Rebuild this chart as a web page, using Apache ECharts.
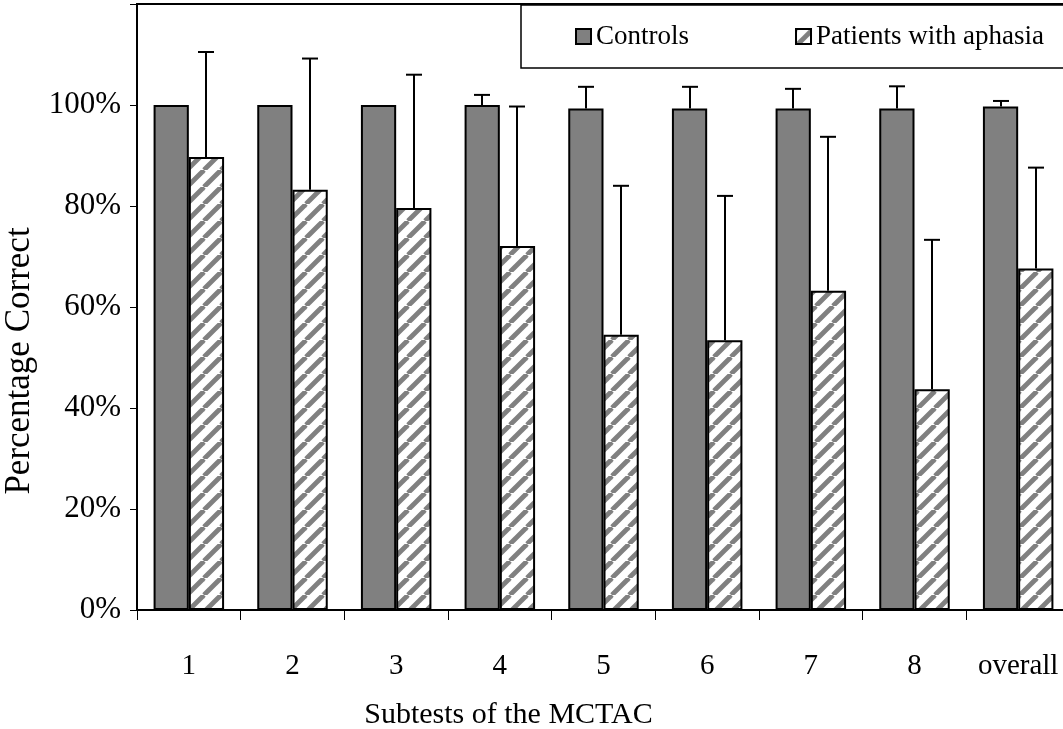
<!DOCTYPE html>
<html>
<head>
<meta charset="utf-8">
<script src="https://cdn.jsdelivr.net/npm/echarts@6/dist/echarts.min.js"></script>
<style>
html,body{margin:0;padding:0;background:#fff;}
#chart{width:1063px;height:729px;}
</style>
</head>
<body>
<div id="chart"></div>
<script>
// ---- Data ----
var categories = ['1', '2', '3', '4', '5', '6', '7', '8', 'overall'];
var controls = [100, 100, 100, 100, 99.3, 99.3, 99.3, 99.3, 99.7];
var controlsSD = [0, 0, 0, 2, 4.3, 4.3, 3.9, 4.4, 1.1];
var patients = [89.7, 83.2, 79.6, 72.1, 54.5, 53.4, 63.2, 43.7, 67.6];
var patientsSD = [20.8, 26, 26.4, 27.6, 29.5, 28.6, 30.5, 29.6, 20];
var yTicks = [0, 20, 40, 60, 80, 100];

var FONT = '"Liberation Serif", "Times New Roman", serif';

// hatch pattern
function makeHatch() {
  var s = 17;
  var c = document.createElement('canvas');
  c.width = s; c.height = s;
  var ctx = c.getContext('2d');
  ctx.fillStyle = '#ffffff';
  ctx.fillRect(0, 0, s, s);
  ctx.strokeStyle = '#808080';
  ctx.lineWidth = 4.8;
  for (var k = -1; k <= 1; k++) {
    ctx.beginPath();
    ctx.moveTo(k * s, s);
    ctx.lineTo(k * s + s, 0);
    ctx.stroke();
  }
  return c;
}
var hatch = makeHatch();

var GAP = 0.32;

function errorSeries(name, values, sds, side) {
  var data = values.map(function (v, i) { return [i, v, v + sds[i], sds[i]]; });
  return {
    type: 'custom',
    name: name + ' SD',
    z: 5,
    silent: true,
    data: data,
    encode: { x: 0, y: [1, 2] },
    renderItem: function (params, api) {
      var i = api.value(0);
      var sd = api.value(3);
      if (!(sd > 0)) return null;
      var band = api.size([1, 0])[0];
      var bw = band * (1 - GAP) / 2;
      var base = api.coord([i, api.value(1)]);
      var top = api.coord([i, api.value(2)]);
      var x = Math.round(base[0] + side * bw / 2);
      var cap = 8;
      var style = { stroke: '#000', lineWidth: 2, fill: null };
      return {
        type: 'group',
        children: [
          { type: 'line', shape: { x1: x, y1: base[1], x2: x, y2: top[1] }, style: style },
          { type: 'line', shape: { x1: x - cap, y1: top[1], x2: x + cap, y2: top[1] }, style: style }
        ]
      };
    }
  };
}

var chart = echarts.init(document.getElementById('chart'), null, { renderer: 'canvas' });
chart.setOption({
  animation: false,
  backgroundColor: '#fff',
  textStyle: { fontFamily: FONT, color: '#000' },
  grid: {
    left: 137, width: 933, top: 4, height: 606,
    outerBoundsMode: 'none',
    containLabel: false,
    show: true, borderColor: '#000', borderWidth: 2, backgroundColor: 'transparent'
  },
  legend: {
    data: ['Controls', 'Patients with aphasia'],
    orient: 'horizontal',
    left: 521, top: 5, width: 700,
    padding: [18, 40, 18, 54],
    itemGap: 106,
    itemWidth: 15, itemHeight: 15,
    icon: 'rect',
    backgroundColor: '#fff',
    borderColor: '#000', borderWidth: 1.5,
    textStyle: { fontFamily: FONT, fontSize: 27, color: '#000' },
    z: 10
  },
  xAxis: {
    type: 'category',
    data: categories,
    name: 'Subtests of the MCTAC',
    nameLocation: 'middle',
    nameGap: 90,
    nameTextStyle: { fontFamily: FONT, fontSize: 30, color: '#000', padding: [0, 190, 0, 0] },
    axisLine: { lineStyle: { color: '#000', width: 2 } },
    axisTick: { show: true, interval: 0, length: 10, lineStyle: { color: '#000', width: 1 } },
    axisLabel: { interval: 0, fontFamily: FONT, fontSize: 29, color: '#000', margin: 42 },
    splitLine: { show: false }
  },
  yAxis: {
    type: 'value',
    min: 0, max: 120, interval: 20,
    name: 'Percentage Correct',
    nameLocation: 'middle',
    nameGap: 97,
    nameTextStyle: { fontFamily: FONT, fontSize: 35, color: '#000', padding: [0, 108, 0, 0] },
    axisLine: { show: true, lineStyle: { color: '#000', width: 2 } },
    axisTick: { show: true, length: 7, lineStyle: { color: '#000', width: 1 } },
    axisLabel: {
      fontFamily: FONT, fontSize: 31, color: '#000', margin: 16,
      formatter: function (v) { return yTicks.indexOf(v) >= 0 ? v + '%' : ''; }
    },
    splitLine: { show: false }
  },
  series: [
    {
      name: 'Controls',
      type: 'bar',
      data: controls,
      barGap: '0%',
      barCategoryGap: (GAP * 100) + '%',
      itemStyle: { color: '#808080', borderColor: '#000', borderWidth: 2 }
    },
    {
      name: 'Patients with aphasia',
      type: 'bar',
      data: patients,
      barGap: '0%',
      barCategoryGap: (GAP * 100) + '%',
      itemStyle: { color: { image: hatch, repeat: 'repeat' }, borderColor: '#000', borderWidth: 2 }
    },
    errorSeries('Controls', controls, controlsSD, -1),
    errorSeries('Patients with aphasia', patients, patientsSD, 1)
  ]
});
</script>
</body>
</html>
